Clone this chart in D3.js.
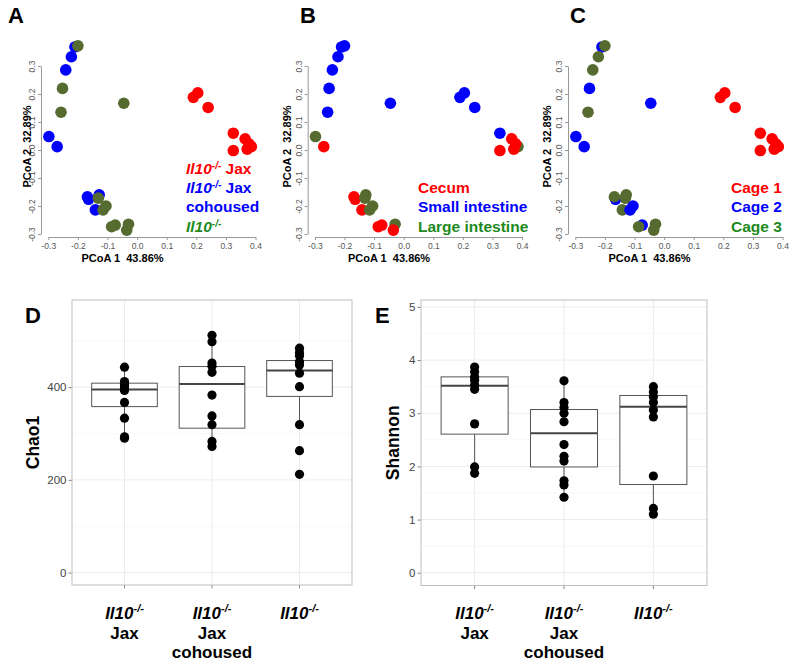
<!DOCTYPE html>
<html><head><meta charset="utf-8">
<script src="https://cdn.jsdelivr.net/npm/d3@7"></script>
<style>body{margin:0;background:#fff} svg{display:block;font-family:"Liberation Sans",Arial,Helvetica,sans-serif}</style>
</head><body><svg id="c" width="800" height="665"></svg>
<script>
// ---------- PCoA data (draw order) ----------
const pcoa1 = [-0.210,-0.200,-0.222,-0.241,-0.252,-0.257,-0.298,-0.270,-0.045,
               0.190,0.205,0.240,0.325,0.386,0.365,0.378,0.325,0.372,
               -0.164,-0.168,-0.128,-0.131,-0.141,-0.105,-0.115,-0.074,-0.086,-0.029,-0.035];
const pcoa2 = [0.368,0.372,0.333,0.286,0.220,0.135,0.048,0.012,0.167,
               0.188,0.204,0.152,0.060,0.012,0.040,0.022,-0.002,0.003,
               -0.176,-0.167,-0.160,-0.172,-0.214,-0.200,-0.214,-0.268,-0.274,-0.265,-0.286];
// 0 = Il10-/- Jax, 1 = Il10-/- Jax cohoused, 2 = Il10-/-
const genotype = [1,2,1,1,2,2,1,1,2, 0,0,0,0,0,0,0,0,0, 1,1,1,2,1,2,2,2,2,2,2];
// 0 = Cecum, 1 = Small intestine, 2 = Large intestine
const tissue   = [1,1,1,1,1,1,2,0,1, 1,1,1,1,2,0,0,0,0, 0,0,2,2,0,2,2,0,0,2,0];
// 0 = Cage 1, 1 = Cage 2, 2 = Cage 3
const cage     = [1,2,2,2,1,2,1,1,1, 0,0,0,0,0,0,0,0,0, 1,2,2,2,2,1,1,1,2,2,2];
const pcoaTicksX = [-0.3,-0.2,-0.1,0.0,0.1,0.2,0.3,0.4];
const pcoaTicksY = [-0.3,-0.2,-0.1,0.0,0.1,0.2,0.3];
const pcoaXTitle = "PCoA 1 \u00a043.86%";
const pcoaYTitle = "PCoA 2 \u00a032.89%";
// legend lines: [italic gene, superscript, plain text]
const legendGenotype = [["Il10","-/-"," Jax"],["Il10","-/-"," Jax"],["","","cohoused"],["Il10","-/-",""]];
const legendGenotypeColor = [0,1,1,2];
const legendTissue = [["","","Cecum"],["","","Small intestine"],["","","Large intestine"]];
const legendCage = [["","","Cage 1"],["","","Cage 2"],["","","Cage 3"]];

// ---------- alpha diversity data ----------
const categories = ["Jax","Jax cohoused","Il10"];
const categoryLine1 = ["Il10","Il10","Il10"];
const categoryRest = [["Jax"],["Jax","cohoused"],[]];

const chao1Jax = [443,412,407,403,398,393,367,333,293,290];
const chao1Coh = [512,498,452,445,432,383,338,319,283,272];
const chao1Il10 = [484,475,468,455,448,430,401,319,263,212];
const chao1Q1  = [358,311.5,380];
const chao1Med = [395,407,436];
const chao1Q3  = [408.6,444.5,457.4];
const chao1Lo  = [290,272,318.6];
const chao1Hi  = [443,512,484];
const chao1Ticks = [0,200,400];
const chao1Minor = [100,300,500];

const shannonJax = [3.87,3.78,3.68,3.62,3.53,3.45,2.80,1.99,1.87];
const shannonCoh = [3.61,3.20,3.11,3.00,2.84,2.41,2.19,2.10,1.73,1.65,1.42];
const shannonIl10 = [3.50,3.40,3.31,3.20,3.06,2.93,1.82,1.21,1.10];
const shannonQ1  = [2.607,1.99,1.66];
const shannonMed = [3.515,2.626,3.12];
const shannonQ3  = [3.684,3.07,3.334];
const shannonLo  = [1.868,1.42,1.10];
const shannonHi  = [3.87,3.61,3.50];
const shannonTicks = [0,1,2,3,4,5];
const shannonMinor = [0.5,1.5,2.5,3.5,4.5];

// ---------- styles ----------
const dotColors = ["#ff0000","#0000ff","#556b2f"];
const textColors = ["#ff0000","#0000ff","#1e8a1e"];
const FONT = "Liberation Sans, Arial, sans-serif";

const svg = d3.select("#c");

function richText(sel, parts, size, supSize) {
  if (parts[0]) {
    sel.append("tspan").attr("font-style","italic").text(parts[0]);
    sel.append("tspan").attr("font-style","italic").attr("font-size",supSize)
       .attr("dy",-size*0.38).text(parts[1]);
    if (parts[2]) sel.append("tspan").attr("dy",size*0.38).text("\u00a0" + parts[2].trim());
  } else {
    sel.append("tspan").text(parts[2]);
  }
}

// ---------- PCoA panels ----------
const layouts = [
  {ox:0,     axisX:41,    yTitleX:27,  letter:"A", letterX:8,   legendX:186, legendY:[169,188,207,227],
   grp:genotype, legend:legendGenotype, legendCol:legendGenotypeColor},
  {ox:266.6, axisX:307.7, yTitleX:287, letter:"B", letterX:300, legendX:418, legendY:[188,207,227],
   grp:tissue, legend:legendTissue, legendCol:[0,1,2]},
  {ox:527,   axisX:568,   yTitleX:547, letter:"C", letterX:570, legendX:731, legendY:[188,207,227],
   grp:cage, legend:legendCage, legendCol:[0,1,2]}
];
const fmt = d => d.toFixed(1);

layouts.forEach(L => {
  const g = svg.append("g");
  const x = d3.scaleLinear().domain([-0.3,0.4]).range([48.3+L.ox, 255.5+L.ox]);
  const y = d3.scaleLinear().domain([-0.3,0.3]).range([234,66]);

  const ya = g.append("g").attr("transform",`translate(${L.axisX},0)`)
    .call(d3.axisLeft(y).tickValues(pcoaTicksY).tickSize(3).tickSizeOuter(0).tickFormat(fmt));
  ya.select(".domain").attr("stroke","#999");
  ya.selectAll(".tick line").attr("stroke","#999");
  ya.selectAll("text").attr("transform","rotate(-90)").attr("x",0).attr("y",-6).attr("dy",0)
    .attr("text-anchor","middle").attr("font-size",8.5).attr("fill","#555").attr("font-family",FONT);
  const xa = g.append("g").attr("transform","translate(0,237)")
    .call(d3.axisBottom(x).tickValues(pcoaTicksX).tickSize(3).tickSizeOuter(0).tickFormat(fmt));
  xa.select(".domain").attr("stroke","#999");
  xa.selectAll(".tick line").attr("stroke","#999");
  xa.selectAll("text").attr("y",5.5).attr("dy","0.71em").attr("font-size",8.5).attr("fill","#555").attr("font-family",FONT);

  g.append("text").attr("x",122.5+L.ox).attr("y",258).attr("dy","0.35em").attr("text-anchor","middle")
    .attr("font-size",11).attr("font-weight","bold").text(pcoaXTitle);
  g.append("text").attr("transform",`translate(${L.yTitleX},146.5) rotate(-90)`).attr("dy","0.35em")
    .attr("text-anchor","middle").attr("font-size",11).attr("font-weight","bold").text(pcoaYTitle);
  g.append("text").attr("x",L.letterX).attr("y",23).attr("font-size",22).attr("font-weight","bold").text(L.letter);

  g.selectAll("circle").data(pcoa1.map((v,i)=>i)).join("circle")
    .attr("cx",i=>x(pcoa1[i])).attr("cy",i=>y(pcoa2[i])).attr("r",5.8)
    .attr("fill",i=>dotColors[L.grp[i]]);

  L.legend.forEach((parts,k) => {
    const t = g.append("text").attr("x",L.legendX).attr("y",L.legendY[k]).attr("dy","0.35em")
      .attr("font-size",15.5).attr("font-weight","bold").attr("fill",textColors[L.legendCol[k]]);
    richText(t, parts, 15.5, 10);
  });
});

// ---------- Box panels ----------
function boxPanel(P) {
  const g = svg.append("g");
  const y = d3.scaleLinear().domain(P.domain).range([P.y1, P.y0]);
  const x = d3.scalePoint().domain(categories).range([P.x0, P.x1]).padding(0.6);
  const bw = x.step()*0.75;

  g.append("rect").attr("x",P.x0).attr("y",P.y0).attr("width",P.x1-P.x0).attr("height",P.y1-P.y0).attr("fill","#fff");
  P.minor.forEach(v => g.append("line").attr("x1",P.x0).attr("x2",P.x1).attr("y1",y(v)).attr("y2",y(v))
    .attr("stroke","#f4f4f4").attr("stroke-width",0.6));
  P.ticks.forEach(v => g.append("line").attr("x1",P.x0).attr("x2",P.x1).attr("y1",y(v)).attr("y2",y(v))
    .attr("stroke","#ececec").attr("stroke-width",1));
  categories.forEach(c => g.append("line").attr("x1",x(c)).attr("x2",x(c)).attr("y1",P.y0).attr("y2",P.y1)
    .attr("stroke","#ececec").attr("stroke-width",1));

  const ya = g.append("g").attr("transform",`translate(${P.x0},0)`)
    .call(d3.axisLeft(y).tickValues(P.ticks).tickSize(3.5).tickPadding(2).tickSizeOuter(0).tickFormat(d3.format("d")));
  ya.select(".domain").remove();
  ya.selectAll(".tick line").attr("stroke","#888");
  ya.selectAll("text").attr("font-size",11.5).attr("fill","#444").attr("font-family",FONT);
  categories.forEach(c => g.append("line").attr("x1",x(c)).attr("x2",x(c)).attr("y1",P.y1).attr("y2",P.y1+3.5)
    .attr("stroke","#888"));

  categories.forEach((c,i) => {
    const cx = x(c);
    g.append("line").attr("x1",cx).attr("x2",cx).attr("y1",y(P.lo[i])).attr("y2",y(P.q1[i])).attr("stroke","#555");
    g.append("line").attr("x1",cx).attr("x2",cx).attr("y1",y(P.q3[i])).attr("y2",y(P.hi[i])).attr("stroke","#555");
    g.append("rect").attr("x",cx-bw/2).attr("width",bw).attr("y",y(P.q3[i])).attr("height",y(P.q1[i])-y(P.q3[i]))
      .attr("fill","#fff").attr("stroke","#555").attr("stroke-width",1);
    g.append("line").attr("x1",cx-bw/2).attr("x2",cx+bw/2).attr("y1",y(P.med[i])).attr("y2",y(P.med[i]))
      .attr("stroke","#444").attr("stroke-width",2);
    g.selectAll(null).data(P.pts[i]).join("circle").attr("cx",cx).attr("cy",d=>y(d)).attr("r",4.6).attr("fill","#000");
  });

  g.append("rect").attr("x",P.x0).attr("y",P.y0).attr("width",P.x1-P.x0).attr("height",P.y1-P.y0)
    .attr("fill","none").attr("stroke","#bdbdbd").attr("stroke-width",1);

  categories.forEach((c,i) => {
    const t = g.append("text").attr("x",x(c)).attr("y",613).attr("dy","0.35em").attr("text-anchor","middle")
      .attr("font-size",17).attr("font-weight","bold");
    richText(t, [categoryLine1[i],"-/-",""], 17, 11);
    categoryRest[i].forEach((s,k) => g.append("text").attr("x",x(c)).attr("y",633+k*19.5).attr("dy","0.35em")
      .attr("text-anchor","middle").attr("font-size",17).attr("font-weight","bold").text(s));
  });

  g.append("text").attr("transform",`translate(${P.yTitleX},${(P.y0+P.y1)/2}) rotate(-90)`).attr("dy","0.35em")
    .attr("text-anchor","middle").attr("font-size",17.5).attr("font-weight","bold").text(P.title);
  g.append("text").attr("x",P.letterX).attr("y",323).attr("font-size",22).attr("font-weight","bold").text(P.letter);
}

boxPanel({x0:72, x1:352, y0:300, y1:585, domain:[-26.8,588], ticks:chao1Ticks, minor:chao1Minor,
  pts:[chao1Jax,chao1Coh,chao1Il10], q1:chao1Q1, med:chao1Med, q3:chao1Q3, lo:chao1Lo, hi:chao1Hi,
  title:"Chao1", yTitleX:32.5, letter:"D", letterX:25});
boxPanel({x0:421, x1:707, y0:300, y1:585.5, domain:[-0.24,5.13], ticks:shannonTicks, minor:shannonMinor,
  pts:[shannonJax,shannonCoh,shannonIl10], q1:shannonQ1, med:shannonMed, q3:shannonQ3, lo:shannonLo, hi:shannonHi,
  title:"Shannon", yTitleX:392.5, letter:"E", letterX:375});
</script></body></html>
